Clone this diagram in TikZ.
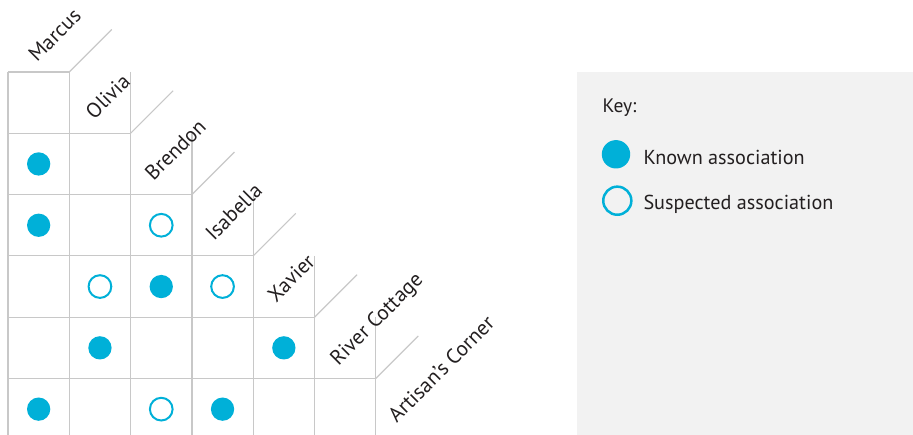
\documentclass[tikz,border=0pt]{standalone}
\usepackage{fontspec}
\setmainfont{PT Sans}
\definecolor{dotc}{HTML}{00B0D8}
\definecolor{gridc}{HTML}{C8C8C8}
\definecolor{txt}{HTML}{231F20}
\definecolor{keybg}{HTML}{F2F2F2}
\tikzset{
  gridline/.style={draw=gridc, line width=1.2pt},
  known/.style={circle, fill=dotc, minimum size=23.3pt, inner sep=0pt},
  suspected/.style={circle, draw=dotc, line width=2pt, minimum size=22.7pt, inner sep=0pt},
  collabel/.style={rotate=45, anchor=base west, inner sep=0pt, text=txt, font=\fontsize{21}{24}\selectfont},
  keytext/.style={anchor=base west, inner sep=0pt, text=txt},
}
\begin{document}
\begin{tikzpicture}[x=1pt,y=-1pt]
\def\s{61.3}
\useasboundingbox (0,0) rectangle (913,435);
\begin{scope}
\clip (0,0) rectangle (913,435);
% key background
\fill[keybg] (577,72) rectangle (913,435);
% grid
\draw[gridline] (8,72) -- (8,440);
\foreach \k in {0,...,5}{
  \draw[gridline] (8,72+\k*\s) -- ({8+(\k+1)*\s},72+\k*\s);
  \draw[gridline] ({8+(\k+1)*\s},{72+\k*\s-\s*(\k>0)}) -- ({8+(\k+1)*\s},440);
  \draw[gridline] ({8+(\k+1)*\s},72+\k*\s) -- ++(42.5,-42.5);
}
\end{scope}
% labels
\foreach \k/\dx/\dy/\t in {0/29/-9/Marcus,1/25/-13/Olivia,2/23/-13/Brendon,3/22/-14/Isabella,4/23/-14/Xavier,5/24/-12/River Cottage,6/21/-16/Artisan’s Corner}{
  \node[collabel] (lab\k) at ({8+\k*\s+\dx},{72+\k*\s+\dy}) {\t};
}
% dots: (col,row)
\foreach \c/\r [count=\i] in {0/1,0/2,2/3,1/4,4/4,0/5,3/5}{
  \node[known] (k\i) at ({8+(\c+0.5)*\s},{72+(\r+0.5)*\s}) {};
}
\foreach \c/\r [count=\i] in {2/2,1/3,3/3,2/5}{
  \node[suspected] (s\i) at ({8+(\c+0.5)*\s},{72+(\r+0.5)*\s}) {};
}
% key
\node[keytext, font=\fontsize{19.5}{23}\selectfont] (keyt) at (602.5,112.3) {Key:};
\node[circle, fill=dotc, minimum size=28.4pt, inner sep=0pt] (kk) at (616,154.3) {};
\node[circle, draw=dotc, line width=2.5pt, minimum size=28.1pt, inner sep=0pt] (ks) at (617.3,200.7) {};
\node[keytext, font=\fontsize{20.2}{24}\selectfont] (kkt) at (643.3,164.3) {Known association};
\node[keytext, font=\fontsize{20.2}{24}\selectfont] (kst) at (643.3,210) {Suspected association};
\end{tikzpicture}
\end{document}
